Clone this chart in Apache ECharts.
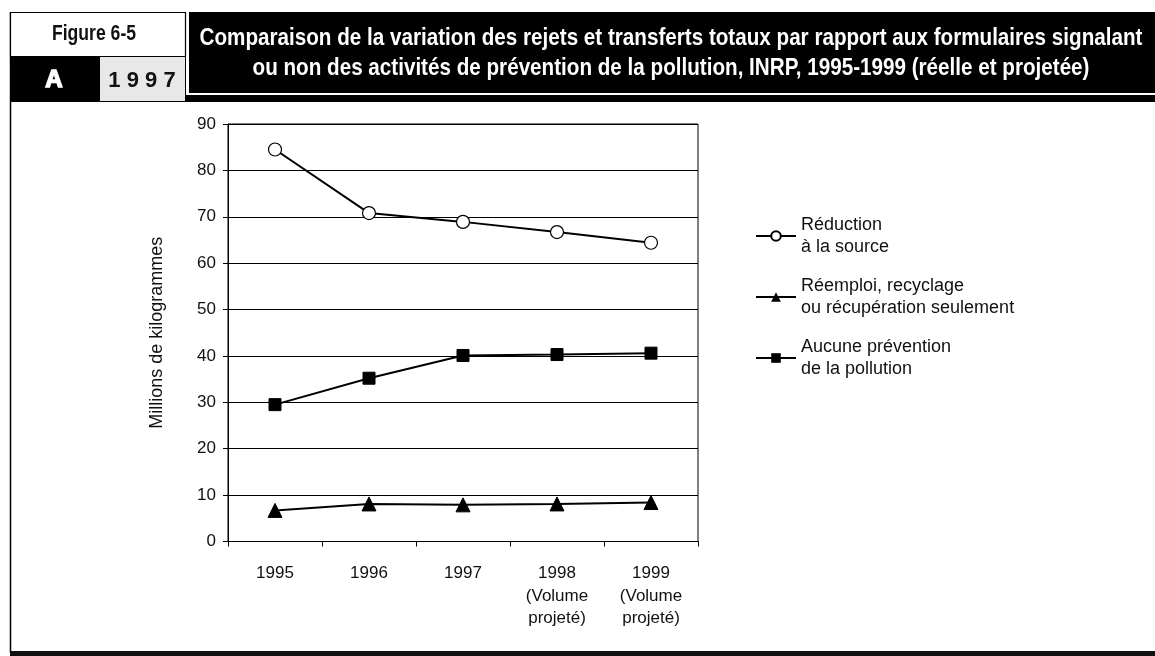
<!DOCTYPE html>
<html>
<head>
<meta charset="utf-8">
<script src="https://cdn.jsdelivr.net/npm/echarts@6/dist/echarts.min.js"></script>
<style>
html,body{margin:0;padding:0;background:#fff;}
#chart{width:1155px;height:656px;}
</style>
</head>
<body>
<div id="chart"></div>
<script>
const categories = ['1995', '1996', '1997', '1998\n(Volume\nprojeté)', '1999\n(Volume\nprojeté)'];
const yTicks = [0, 10, 20, 30, 40, 50, 60, 70, 80, 90];
const seriesNames = ['Réduction\nà la source', 'Réemploi, recyclage\nou récupération seulement', 'Aucune prévention\nde la pollution'];
const reductionSource = [84.5, 70.8, 68.9, 66.7, 64.4];
const reemploi = [6.7, 8.1, 7.9, 8.1, 8.4];
const aucunePrevention = [29.5, 35.2, 40.1, 40.3, 40.6];
const titleText = 'Comparaison de la variation des rejets et transferts totaux par rapport aux formulaires signalant\nou non des activités de prévention de la pollution, INRP, 1995-1999 (réelle et projetée)';
const yAxisName = 'Millions de kilogrammes';

const SANS = '"Liberation Sans", Arial, sans-serif';

const chart = echarts.init(document.getElementById('chart'), null, {renderer: 'canvas'});

const option = {
  animation: false,
  backgroundColor: '#fff',
  grid: {
    left: 228, top: 124, right: 457, bottom: 114.5,
    show: true, borderColor: '#000', borderWidth: 1, backgroundColor: 'transparent'
  },
  xAxis: {
    type: 'category',
    data: categories,
    boundaryGap: true,
    axisLine: {lineStyle: {color: '#000', width: 1}},
    axisTick: {show: true, length: 5, inside: false, lineStyle: {color: '#000'}},
    axisLabel: {
      color: '#111', fontFamily: SANS, fontSize: 17, lineHeight: 22.5, margin: 21, interval: 0
    }
  },
  yAxis: {
    type: 'value',
    min: yTicks[0], max: yTicks[yTicks.length - 1], interval: 10,
    name: yAxisName,
    nameLocation: 'middle',
    nameGap: 62,
    nameRotate: 90,
    nameTextStyle: {color: '#111', fontFamily: SANS, fontSize: 18},
    axisLine: {show: true, lineStyle: {color: '#000', width: 1}},
    axisTick: {show: true, length: 5, lineStyle: {color: '#000'}},
    axisLabel: {color: '#111', fontFamily: SANS, fontSize: 17, margin: 12},
    splitLine: {show: true, lineStyle: {color: '#000', width: 1}}
  },
  legend: {
    orient: 'vertical',
    left: 750, top: 209,
    itemWidth: 40, itemHeight: 12,
    itemGap: 17,
    textStyle: {color: '#111', fontFamily: SANS, fontSize: 18, lineHeight: 22},
    data: seriesNames
  },
  series: [
    {
      name: seriesNames[0], type: 'line', data: reductionSource,
      symbol: 'circle', symbolSize: 13,
      lineStyle: {color: '#000', width: 2},
      itemStyle: {color: '#fff', borderColor: '#000', borderWidth: 1.2},
      z: 3
    },
    {
      name: seriesNames[1], type: 'line', data: reemploi,
      symbol: 'triangle', symbolSize: 14,
      lineStyle: {color: '#000', width: 2},
      itemStyle: {color: '#000', borderColor: '#000'},
      z: 3
    },
    {
      name: seriesNames[2], type: 'line', data: aucunePrevention,
      symbol: 'rect', symbolSize: 12,
      lineStyle: {color: '#000', width: 2},
      itemStyle: {color: '#000', borderColor: '#000'},
      z: 3
    }
  ],
  graphic: [
    {type: 'line', shape: {x1: 10.5, y1: 12, x2: 10.5, y2: 653}, style: {stroke: '#000', lineWidth: 1.5}},
    {type: 'rect', shape: {x: 10.5, y: 12.5, width: 175, height: 44}, style: {fill: '#fff', stroke: '#000', lineWidth: 1.2}},
    {type: 'text', x: 94, y: 34, scaleX: 0.8, style: {x: 0, y: 0, text: 'Figure 6-5', fill: '#111', font: 'bold 22px ' + SANS, textAlign: 'center', textVerticalAlign: 'middle'}},
    {type: 'rect', shape: {x: 10, y: 56, width: 89, height: 46}, style: {fill: '#000'}},
    {type: 'text', x: 54, y: 80, style: {text: 'A', fill: '#fff', stroke: '#fff', lineWidth: 1.5, font: 'bold 24px ' + SANS, textAlign: 'center', textVerticalAlign: 'middle'}},
    {type: 'rect', shape: {x: 99.5, y: 56.5, width: 86, height: 45}, style: {fill: '#e8e8e8', stroke: '#000', lineWidth: 1}},
    {type: 'text', x: 142, y: 81, style: {text: '1 9 9 7', fill: '#111', font: 'bold 22px ' + SANS, textAlign: 'center', textVerticalAlign: 'middle'}},
    {type: 'rect', shape: {x: 189, y: 12, width: 966, height: 81}, style: {fill: '#000'}},
    {type: 'text', x: 671, y: 53, scaleX: 0.86, style: {x: 0, y: 0, text: titleText, fill: '#fff', font: 'bold 24px ' + SANS, lineHeight: 30, textAlign: 'center', textVerticalAlign: 'middle'}},
    {type: 'rect', shape: {x: 185, y: 95, width: 970, height: 7}, style: {fill: '#000'}},
    {type: 'rect', shape: {x: 10, y: 651, width: 1145, height: 5}, style: {fill: '#111'}}
  ]
};

chart.setOption(option);
</script>
</body>
</html>
